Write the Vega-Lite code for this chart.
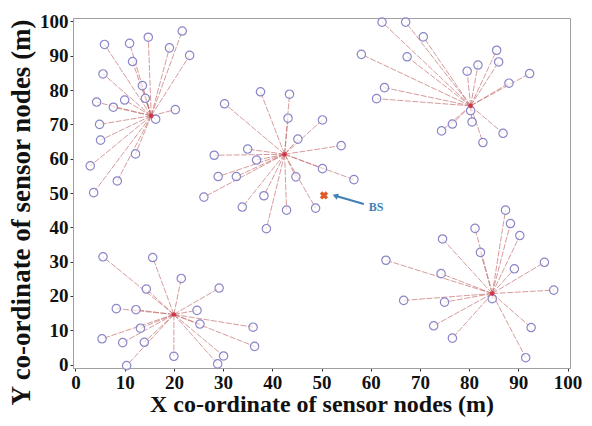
{
  "$schema": "https://vega.github.io/schema/vega-lite/v6.json",
  "width": 497,
  "height": 350,
  "autosize": "none",
  "padding": {"left": 73, "top": 18, "right": 22, "bottom": 58},
  "background": "white",
  "config": {
    "view": {"stroke": "#a0a0a0", "strokeWidth": 1},
    "axis": {
      "labelFont": "Liberation Serif", "labelFontWeight": "bold", "labelFontSize": 19, "labelColor": "#111",
      "titleFont": "Liberation Serif", "titleFontWeight": "bold", "titleColor": "#111",
      "grid": false, "domainColor": "#a0a0a0", "tickColor": "#333", "tickSize": 3, "labelPadding": 2,
      "labelOverlap": false
    },
    "axisY": {"labelOverlap": false, "tickCount": 11},
    "axisQuantitative": {"labelOverlap": false}
  },
  "datasets": {
    "nodes": [
      {"x": 21.7, "y": 97.2, "hx": 15.4, "hy": 72.5},
      {"x": 14.8, "y": 95.4, "hx": 15.4, "hy": 72.5},
      {"x": 5.9, "y": 93.3, "hx": 15.4, "hy": 72.5},
      {"x": 11.0, "y": 93.6, "hx": 15.4, "hy": 72.5},
      {"x": 19.1, "y": 92.3, "hx": 15.4, "hy": 72.5},
      {"x": 23.2, "y": 90.1, "hx": 15.4, "hy": 72.5},
      {"x": 11.6, "y": 88.3, "hx": 15.4, "hy": 72.5},
      {"x": 5.6, "y": 84.7, "hx": 15.4, "hy": 72.5},
      {"x": 13.6, "y": 81.3, "hx": 15.4, "hy": 72.5},
      {"x": 14.2, "y": 77.6, "hx": 15.4, "hy": 72.5},
      {"x": 4.3, "y": 76.5, "hx": 15.4, "hy": 72.5},
      {"x": 10.0, "y": 77.1, "hx": 15.4, "hy": 72.5},
      {"x": 7.7, "y": 75.0, "hx": 15.4, "hy": 72.5},
      {"x": 20.3, "y": 74.3, "hx": 15.4, "hy": 72.5},
      {"x": 16.3, "y": 71.5, "hx": 15.4, "hy": 72.5},
      {"x": 4.9, "y": 70.0, "hx": 15.4, "hy": 72.5},
      {"x": 5.1, "y": 65.4, "hx": 15.4, "hy": 72.5},
      {"x": 12.2, "y": 61.4, "hx": 15.4, "hy": 72.5},
      {"x": 3.0, "y": 57.9, "hx": 15.4, "hy": 72.5},
      {"x": 8.5, "y": 53.5, "hx": 15.4, "hy": 72.5},
      {"x": 3.7, "y": 50.1, "hx": 15.4, "hy": 72.5},

      {"x": 37.6, "y": 79.5, "hx": 42.5, "hy": 61.3},
      {"x": 43.5, "y": 78.8, "hx": 42.5, "hy": 61.3},
      {"x": 30.3, "y": 76.0, "hx": 42.5, "hy": 61.3},
      {"x": 43.2, "y": 71.8, "hx": 42.5, "hy": 61.3},
      {"x": 50.2, "y": 71.3, "hx": 42.5, "hy": 61.3},
      {"x": 45.2, "y": 65.7, "hx": 42.5, "hy": 61.3},
      {"x": 54.0, "y": 63.8, "hx": 42.5, "hy": 61.3},
      {"x": 35.0, "y": 62.8, "hx": 42.5, "hy": 61.3},
      {"x": 28.2, "y": 61.0, "hx": 42.5, "hy": 61.3},
      {"x": 36.8, "y": 59.6, "hx": 42.5, "hy": 61.3},
      {"x": 50.2, "y": 57.1, "hx": 42.5, "hy": 61.3},
      {"x": 56.6, "y": 53.9, "hx": 42.5, "hy": 61.3},
      {"x": 29.0, "y": 54.8, "hx": 42.5, "hy": 61.3},
      {"x": 32.7, "y": 54.8, "hx": 42.5, "hy": 61.3},
      {"x": 44.8, "y": 54.7, "hx": 42.5, "hy": 61.3},
      {"x": 26.1, "y": 48.8, "hx": 42.5, "hy": 61.3},
      {"x": 38.3, "y": 49.2, "hx": 42.5, "hy": 61.3},
      {"x": 33.9, "y": 45.9, "hx": 42.5, "hy": 61.3},
      {"x": 42.9, "y": 45.0, "hx": 42.5, "hy": 61.3},
      {"x": 48.8, "y": 45.6, "hx": 42.5, "hy": 61.3},
      {"x": 38.8, "y": 39.6, "hx": 42.5, "hy": 61.3},

      {"x": 62.3, "y": 99.8, "hx": 80.3, "hy": 75.4},
      {"x": 67.1, "y": 99.8, "hx": 80.3, "hy": 75.4},
      {"x": 70.7, "y": 95.5, "hx": 80.3, "hy": 75.4},
      {"x": 58.1, "y": 90.4, "hx": 80.3, "hy": 75.4},
      {"x": 67.4, "y": 89.7, "hx": 80.3, "hy": 75.4},
      {"x": 85.6, "y": 91.6, "hx": 80.3, "hy": 75.4},
      {"x": 86.0, "y": 88.2, "hx": 80.3, "hy": 75.4},
      {"x": 81.8, "y": 87.3, "hx": 80.3, "hy": 75.4},
      {"x": 79.6, "y": 85.5, "hx": 80.3, "hy": 75.4},
      {"x": 92.3, "y": 84.8, "hx": 80.3, "hy": 75.4},
      {"x": 88.1, "y": 82.0, "hx": 80.3, "hy": 75.4},
      {"x": 62.8, "y": 80.7, "hx": 80.3, "hy": 75.4},
      {"x": 61.2, "y": 77.5, "hx": 80.3, "hy": 75.4},
      {"x": 80.3, "y": 74.0, "hx": 80.3, "hy": 75.4},
      {"x": 76.6, "y": 70.1, "hx": 80.3, "hy": 75.4},
      {"x": 74.4, "y": 68.1, "hx": 80.3, "hy": 75.4},
      {"x": 80.6, "y": 70.7, "hx": 80.3, "hy": 75.4},
      {"x": 86.9, "y": 67.4, "hx": 80.3, "hy": 75.4},
      {"x": 82.8, "y": 64.7, "hx": 80.3, "hy": 75.4},

      {"x": 5.6, "y": 31.4, "hx": 20.0, "hy": 14.6},
      {"x": 15.7, "y": 31.2, "hx": 20.0, "hy": 14.6},
      {"x": 21.5, "y": 25.1, "hx": 20.0, "hy": 14.6},
      {"x": 29.2, "y": 22.3, "hx": 20.0, "hy": 14.6},
      {"x": 14.4, "y": 22.0, "hx": 20.0, "hy": 14.6},
      {"x": 8.3, "y": 16.3, "hx": 20.0, "hy": 14.6},
      {"x": 12.3, "y": 16.0, "hx": 20.0, "hy": 14.6},
      {"x": 24.7, "y": 15.8, "hx": 20.0, "hy": 14.6},
      {"x": 25.3, "y": 11.8, "hx": 20.0, "hy": 14.6},
      {"x": 13.2, "y": 10.6, "hx": 20.0, "hy": 14.6},
      {"x": 36.1, "y": 10.9, "hx": 20.0, "hy": 14.6},
      {"x": 5.4, "y": 7.5, "hx": 20.0, "hy": 14.6},
      {"x": 9.6, "y": 6.4, "hx": 20.0, "hy": 14.6},
      {"x": 14.0, "y": 6.5, "hx": 20.0, "hy": 14.6},
      {"x": 36.4, "y": 5.3, "hx": 20.0, "hy": 14.6},
      {"x": 20.0, "y": 2.4, "hx": 20.0, "hy": 14.6},
      {"x": 30.1, "y": 2.5, "hx": 20.0, "hy": 14.6},
      {"x": 28.9, "y": 0.2, "hx": 20.0, "hy": 14.6},
      {"x": 10.4, "y": -0.3, "hx": 20.0, "hy": 14.6},

      {"x": 87.4, "y": 45.0, "hx": 84.7, "hy": 20.7},
      {"x": 88.4, "y": 41.1, "hx": 84.7, "hy": 20.7},
      {"x": 81.2, "y": 39.7, "hx": 84.7, "hy": 20.7},
      {"x": 74.6, "y": 36.6, "hx": 84.7, "hy": 20.7},
      {"x": 90.3, "y": 37.6, "hx": 84.7, "hy": 20.7},
      {"x": 82.3, "y": 32.7, "hx": 84.7, "hy": 20.7},
      {"x": 63.1, "y": 30.4, "hx": 84.7, "hy": 20.7},
      {"x": 95.3, "y": 29.8, "hx": 84.7, "hy": 20.7},
      {"x": 89.2, "y": 27.9, "hx": 84.7, "hy": 20.7},
      {"x": 74.3, "y": 26.5, "hx": 84.7, "hy": 20.7},
      {"x": 97.2, "y": 21.7, "hx": 84.7, "hy": 20.7},
      {"x": 66.7, "y": 18.7, "hx": 84.7, "hy": 20.7},
      {"x": 75.0, "y": 18.2, "hx": 84.7, "hy": 20.7},
      {"x": 84.7, "y": 19.2, "hx": 84.7, "hy": 20.7},
      {"x": 72.8, "y": 11.3, "hx": 84.7, "hy": 20.7},
      {"x": 92.6, "y": 10.8, "hx": 84.7, "hy": 20.7},
      {"x": 76.6, "y": 7.7, "hx": 84.7, "hy": 20.7},
      {"x": 91.5, "y": 2.0, "hx": 84.7, "hy": 20.7}
    ],
    "heads": [
      {"x": 15.4, "y": 72.5},
      {"x": 42.5, "y": 61.3},
      {"x": 80.3, "y": 75.4},
      {"x": 20.0, "y": 14.6},
      {"x": 84.7, "y": 20.7}
    ],
    "bs": [{"x": 50.5, "y": 49.3, "label": "BS", "ax": 52.8, "ay": 49.2, "tx": 58.6, "ty": 46.8, "lx": 59.6, "ly": 46.0}]
  },
  "layer": [
    {
      "data": {"name": "nodes"},
      "mark": {"type": "rule", "color": "#c26a6a", "strokeWidth": 0.9, "opacity": 0.75, "strokeDash": [6, 1.5]},
      "encoding": {
        "x": {"field": "hx", "type": "quantitative", "scale": {"domain": [-0.5, 100.5], "nice": false, "zero": false},
          "axis": {"values": [0,10,20,30,40,50,60,70,80,90,100], "title": "X co-ordinate of sensor nodes (m)", "titleFontSize": 24, "titlePadding": 0, "labelOverlap": false}},
        "y": {"field": "hy", "type": "quantitative", "scale": {"domain": [-1, 101], "nice": false, "zero": false},
          "axis": {"values": [0,10,20,30,40,50,60,70,80,90,100], "tickCount": 11, "title": "Y co-ordinate of sensor nodes (m)", "titleFontSize": 27, "titlePadding": 4, "titleY": 194, "labelOverlap": false, "labelBound": false, "labelFlush": false}},
        "x2": {"field": "x"},
        "y2": {"field": "y"}
      }
    },
    {
      "data": {"name": "nodes"},
      "mark": {"type": "point", "shape": "circle", "filled": false, "stroke": "#8a86c8", "strokeWidth": 1.2, "size": 70, "fill": "white", "fillOpacity": 0.6},
      "encoding": {
        "x": {"field": "x", "type": "quantitative"},
        "y": {"field": "y", "type": "quantitative"}
      }
    },
    {
      "data": {"name": "heads"},
      "mark": {"type": "point", "shape": "circle", "filled": true, "color": "#d03040", "size": 22, "opacity": 0.9},
      "encoding": {
        "x": {"field": "x", "type": "quantitative"},
        "y": {"field": "y", "type": "quantitative"}
      }
    },
    {
      "data": {"name": "bs"},
      "mark": {"type": "point", "shape": "cross", "filled": true, "color": "#e05a2a", "size": 70, "angle": 45, "opacity": 1},
      "encoding": {
        "x": {"field": "x", "type": "quantitative"},
        "y": {"field": "y", "type": "quantitative"}
      }
    },
    {
      "data": {"name": "bs"},
      "mark": {"type": "rule", "color": "#3f7fb5", "strokeWidth": 2},
      "encoding": {
        "x": {"field": "ax", "type": "quantitative"},
        "y": {"field": "ay", "type": "quantitative"},
        "x2": {"field": "tx"},
        "y2": {"field": "ty"}
      }
    },
    {
      "data": {"name": "bs"},
      "mark": {"type": "point", "shape": "triangle-left", "filled": true, "color": "#3f7fb5", "size": 40, "angle": 20, "opacity": 1},
      "encoding": {
        "x": {"field": "ax", "type": "quantitative"},
        "y": {"field": "ay", "type": "quantitative"}
      }
    },
    {
      "data": {"name": "bs"},
      "mark": {"type": "text", "font": "Liberation Serif", "fontWeight": "bold", "fontSize": 12, "color": "#3f7fb5", "align": "left", "baseline": "middle"},
      "encoding": {
        "x": {"field": "lx", "type": "quantitative"},
        "y": {"field": "ly", "type": "quantitative"},
        "text": {"field": "label"}
      }
    }
  ]
}
